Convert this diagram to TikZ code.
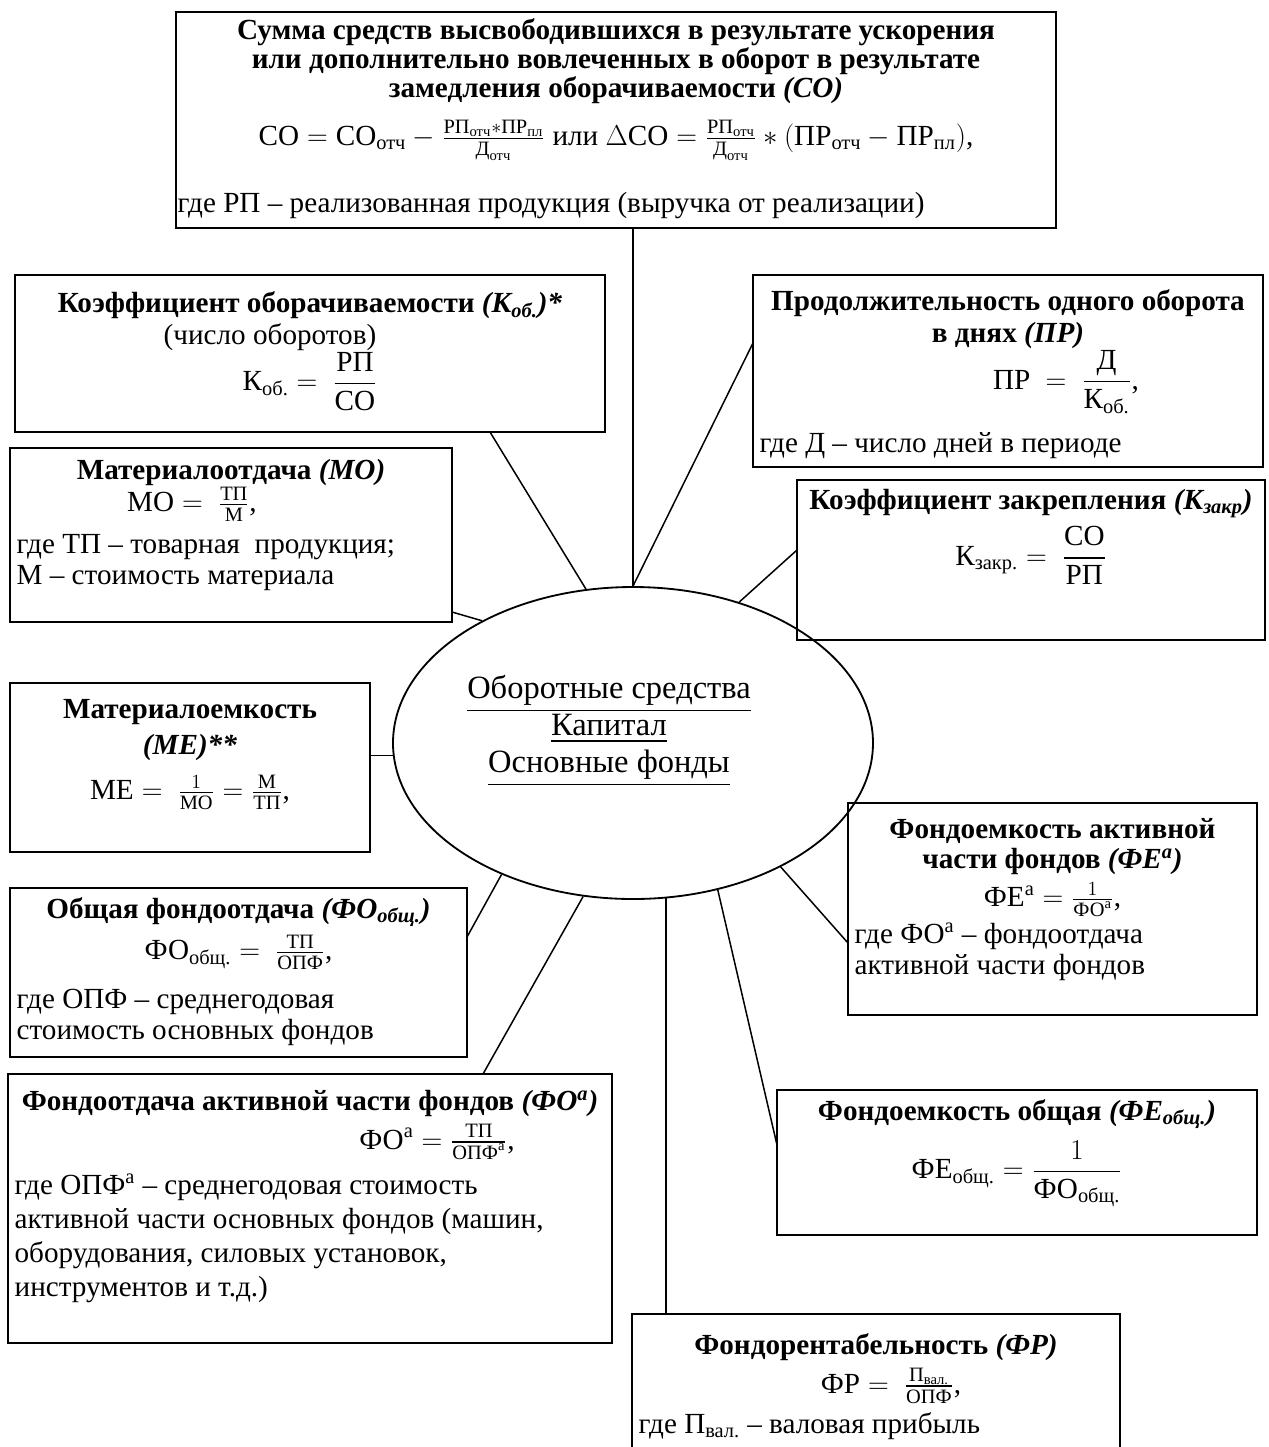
\documentclass[tikz,border=0pt]{standalone}
\usepackage{amsmath}
\usepackage{fontspec}
\setmainfont{Liberation Serif}
\usetikzlibrary{shapes.geometric,calc,positioning}

\newdimen\pxu \pxu=0.6pt
\newcommand{\ru}[1]{\text{#1}}
\newcommand{\bx}[3]{\begin{minipage}[t][\dimexpr#2\pxu-8pt\relax][t]{\dimexpr#1\pxu-8pt\relax}#3\end{minipage}}

\begin{document}
\begin{tikzpicture}[
    x=0.6pt, y=-0.6pt,
    box/.style  = {draw, line width=1.1pt, anchor=north west,
                   inner xsep=4pt, inner ysep=4pt, outer sep=0pt,
                   font=\fontsize{17.5}{19}\selectfont},
    hub/.style  = {draw, ellipse, line width=1.1pt, inner sep=0pt,
                   minimum width=480\pxu, minimum height=312\pxu},
    hubtext/.style = {align=center, font=\fontsize{19.5}{22.2}\selectfont},
    conn/.style = {line width=0.9pt}
  ]

  \useasboundingbox (0,0) rectangle (1268,1447);
  \clip (0,0) rectangle (1268,1447);

  % centre
  \node[hub] (hub) at (633,743) {};
  \node[hubtext] (hubtxt) at (609,731) {\underline{Оборотные средства}\\ \underline{Капитал}\\ \underline{Основные фонды}};

  % boxes
  \node[box, font=\fontsize{17.5}{16}\selectfont] (co) at (176,12) {\bx{880}{216}{{\centering
    \textbf{Сумма средств высвободившихся в результате ускорения\\ или дополнительно вовлеченных в оборот в результате\\ замедления оборачиваемости \textit{(СО)}}\\[9pt]
    $\ru{СО}=\ru{СО}_{\ru{отч}}-\frac{\ru{РП}_{\ru{отч}}*\ru{ПР}_{\ru{пл}}}{\ru{Д}_{\ru{отч}}}$ или $\Delta\ru{СО}=\frac{\ru{РП}_{\ru{отч}}}{\ru{Д}_{\ru{отч}}}*(\ru{ПР}_{\ru{отч}}-\ru{ПР}_{\ru{пл}})$,\par}
    \vspace{18pt}
    \hspace*{-3pt}где РП – реализованная продукция (выручка от реализации)}};

  \node[box] (kob) at (15,275) {\bx{590}{157}{\vspace*{6pt}\centering
    \textbf{Коэффициент оборачиваемости \textit{(К\textsubscript{об.})*}}\\
    \hspace*{-80\pxu}(число оборотов)\\
    $\ru{К}_{\ru{об.}}=\ \dfrac{\ru{РП}}{\ru{СО}}$\par}};

  \node[box] (pr) at (753,275) {\bx{510}{192}{\vspace*{5pt}{\centering
    \textbf{Продолжительность одного оборота\\ в днях \textit{(ПР)}}\\
    \hspace*{116\pxu}$\ru{ПР}\ =\ \dfrac{\ru{Д}}{\ru{К}_{\ru{об.}}}$,\par}
    \vspace{10pt}
    где Д – число дней в периоде}};

  \node[box] (mo) at (10,448) {\bx{442}{174}{\vspace*{3pt}{\centering
    \textbf{Материалоотдача \textit{(МО)}}\\
    $\ru{МО}=\ \frac{\ru{ТП}}{\ru{М}}$,\hspace*{78\pxu}\par}
    \vspace{6pt}
    где ТП – товарная\ \ продукция;\\
    М – стоимость материала}};

  \node[box] (kzak) at (797,480) {\bx{468}{160}{\vspace*{1.5pt}\centering
    \textbf{Коэффициент закрепления \textit{(К\textsubscript{закр})}}\\[4pt]
    $\ru{К}_{\ru{закр.}}=\ \dfrac{\ru{СО}}{\ru{РП}}$\par}};

  \node[box] (me) at (10,683) {\bx{360}{169}{\vspace*{6pt}\centering
    \textbf{Материалоемкость\\[2.5pt] \textit{(МЕ)**}}\\[8pt]
    $\ru{МЕ}=\ \frac{1}{\ru{МО}}=\frac{\ru{М}}{\ru{ТП}}$,\par}};

  \node[box] (foo) at (10,888) {\bx{457}{169}{\vspace*{1.5pt}{\centering
    \textbf{Общая фондоотдача \textit{(ФО\textsubscript{общ.})}}\\[4pt]
    $\ru{ФО}_{\ru{общ.}}=\ \frac{\ru{ТП}}{\ru{ОПФ}}$,\par}
    \vspace{10pt}
    где ОПФ – среднегодовая\\
    стоимость основных фондов}};

  \node[box] (foa) at (8,1074) {\bx{604}{269}{\vspace*{6pt}{\centering
    \textbf{Фондоотдача активной части фондов \textit{(ФО\textsuperscript{а})}}\\[4pt]
    \hspace*{254\pxu}$\ru{ФО}^{\ru{а}}=\frac{\ru{ТП}}{\ru{ОПФ}^{\ru{а}}}$,\par}
    \vspace{8pt}
    где ОПФ\textsuperscript{а} – среднегодовая стоимость\\[1.4pt]
    активной части основных фондов (машин,\\[1.4pt]
    оборудования, силовых установок,\\[1.4pt]
    инструментов и т.д.)}};

  \node[box] (fea) at (848,803) {\bx{409}{212}{\vspace*{5pt}{\centering\baselineskip=18.5pt
    \textbf{Фондоемкость активной\\ части фондов \textit{(ФЕ\textsuperscript{a})}}\\[4pt]
    $\ru{ФЕ}^{\ru{а}}=\frac{1}{\ru{ФО}^{\ru{а}}}$,\par}
    \vspace{3pt}
    где ФО\textsuperscript{а} – фондоотдача\\
    активной части фондов}};

  \node[box] (feo) at (777,1090) {\bx{480}{145}{\vspace*{1.5pt}\centering
    \textbf{Фондоемкость общая \textit{(ФЕ\textsubscript{общ.})}}\\[6pt]
    $\ru{ФЕ}_{\ru{общ.}}=\dfrac{1}{\ru{ФО}_{\ru{общ.}}}$\par}};

  \node[box] (fr) at (632,1314) {\bx{488}{160}{\vspace*{8pt}{\centering
    \textbf{Фондорентабельность \textit{(ФР)}}\\[3pt]
    \hspace*{30\pxu}$\ru{ФР}=\ \frac{\ru{П}_{\ru{вал.}}}{\ru{ОПФ}}$,\par}
    \vspace{5pt}
    где П\textsubscript{вал.} – валовая прибыль}};

  % spokes
  \draw[conn] (hub.north |- co.south) -- (hub.north);
  \draw[conn] (hub.north) -- ($(pr.north west)+(0,68)$);
  \draw[conn] (hub.107) -- ($(kob.south west)+(475,0)$);
  \draw[conn] (hub.141) -- ($(mo.north east)+(0,164)$);
  \draw[conn] (hub.53) -- ($(kzak.north west)+(0,70)$);
  \draw[conn] (hub.183) -- (hub.183 -| me.east);
  \draw[conn] (hub.225) -- ($(foo.north east)+(0,49)$);
  \draw[conn] (hub.252) -- ($(foa.north west)+(475,0)$);
  \draw[conn] (hub.282) -- (hub.282 |- fr.north);
  \draw[conn] (hub.300) -- ($(feo.north west)+(0,55)$);
  \draw[conn] (hub.320) -- ($(fea.north west)+(0,140)$);

\end{tikzpicture}
\end{document}
